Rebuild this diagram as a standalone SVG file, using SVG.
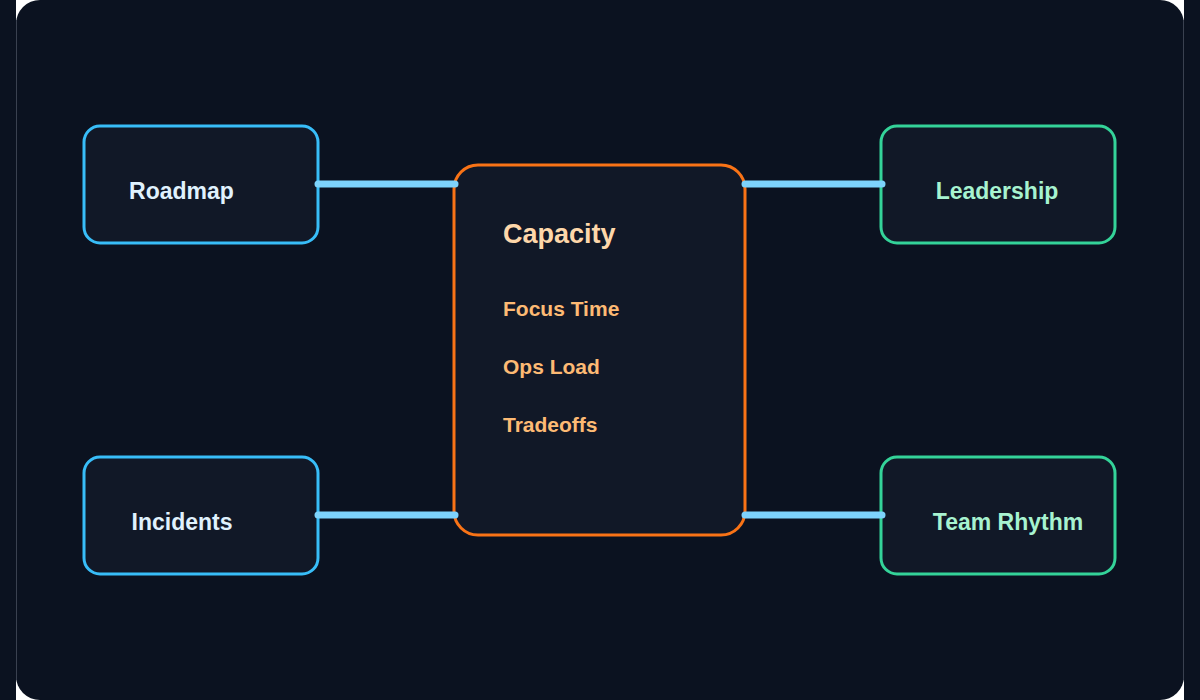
<svg xmlns="http://www.w3.org/2000/svg" width="1200" height="700" viewBox="0 0 1200 700">
  <style>
    .node { fill: #111827; stroke-width: 3; }
    .blue { stroke: #38bdf8; }
    .green { stroke: #34d399; }
    .core { stroke: #f97316; }
    .lbl { font-family: "Liberation Sans", Arial, sans-serif; font-weight: bold; font-size: 23px; }
    .lblb { fill: #e0f2fe; }
    .lblg { fill: #a7f3d0; }
    .title { font-family: "Liberation Sans", Arial, sans-serif; font-weight: bold; font-size: 27px; fill: #fed7aa; }
    .item { font-family: "Liberation Sans", Arial, sans-serif; font-weight: bold; font-size: 21px; fill: #fdba74; }
    .conn { stroke: #7dd3fc; stroke-width: 7; stroke-linecap: round; fill: none; }
  </style>
  <rect x="0" y="0" width="1200" height="700" fill="#0b1220"/>
  <rect x="16" y="0" width="1168" height="700" fill="#ffffff"/>
  <rect x="16" y="0" width="1168" height="700" rx="24" fill="#0b1220"/>
  <line x1="16.5" y1="20" x2="16.5" y2="680" stroke="#3a4150" stroke-width="1"/>
  <line x1="1183.5" y1="20" x2="1183.5" y2="680" stroke="#3a4150" stroke-width="1"/>

  <g id="capacity">
    <rect class="node core" x="454" y="165" width="291" height="370" rx="24"/>
    <text class="title" x="503" y="243">Capacity</text>
    <text class="item" x="503" y="316">Focus Time</text>
    <text class="item" x="503" y="374">Ops Load</text>
    <text class="item" x="503" y="432">Tradeoffs</text>
  </g>

  <g id="roadmap">
    <rect class="node blue" x="84" y="126" width="234" height="117" rx="16"/>
    <text class="lbl lblb" x="181.5" y="199" text-anchor="middle">Roadmap</text>
  </g>

  <g id="incidents">
    <rect class="node blue" x="84" y="457" width="234" height="117" rx="16"/>
    <text class="lbl lblb" x="182" y="530" text-anchor="middle">Incidents</text>
  </g>

  <g id="leadership">
    <rect class="node green" x="881" y="126" width="234" height="117" rx="16"/>
    <text class="lbl lblg" x="997" y="199" text-anchor="middle">Leadership</text>
  </g>

  <g id="team-rhythm">
    <rect class="node green" x="881" y="457" width="234" height="117" rx="16"/>
    <text class="lbl lblg" x="1008" y="530" text-anchor="middle">Team Rhythm</text>
  </g>

  <g id="connectors">
    <line class="conn" x1="318" y1="184" x2="455" y2="184"/>
    <line class="conn" x1="318" y1="515" x2="455" y2="515"/>
    <line class="conn" x1="745" y1="184" x2="882" y2="184"/>
    <line class="conn" x1="745" y1="515" x2="882" y2="515"/>
  </g>
</svg>
